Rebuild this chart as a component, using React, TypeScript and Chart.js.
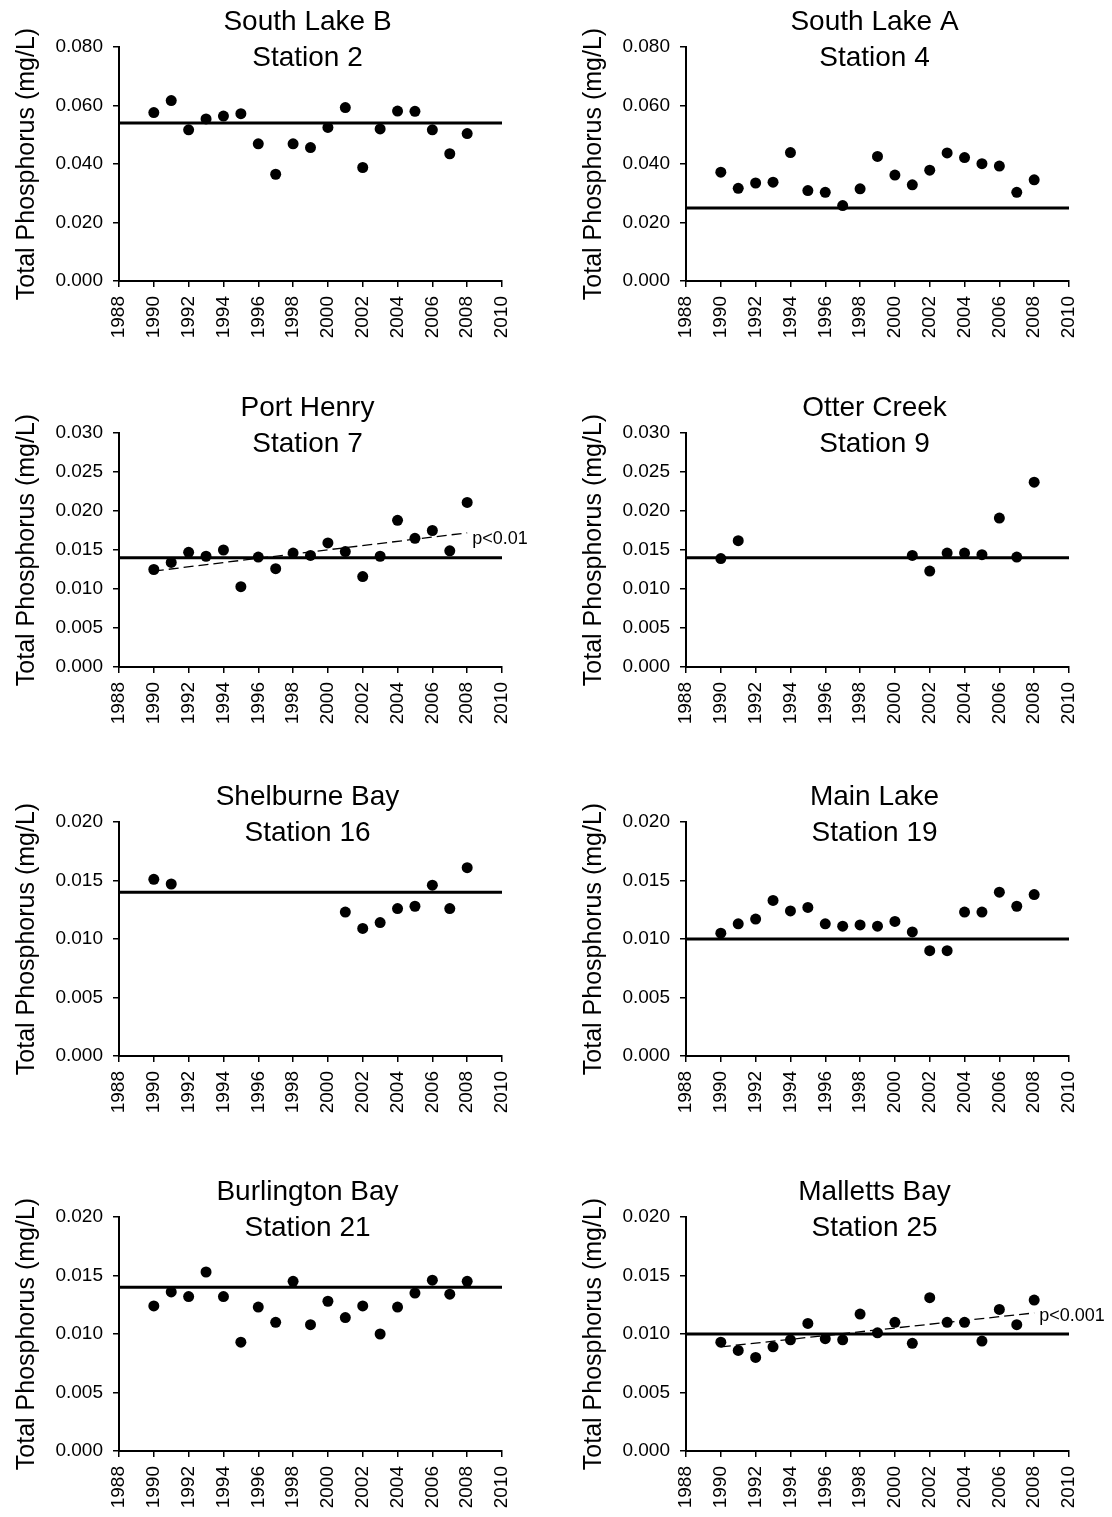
import React, { useEffect, useRef } from "react";
import { Chart, registerables } from "chart.js";

Chart.register(...registerables);

const FONT = '"Liberation Sans", Arial, Helvetica, sans-serif';

// ---------- data ----------
const YEARS_FULL = [1990, 1991, 1992, 1993, 1994, 1995, 1996, 1997, 1998, 1999, 2000, 2001, 2002, 2003, 2004, 2005, 2006, 2007, 2008];
const YEARS_GAP = [1990, 1991, 2001, 2002, 2003, 2004, 2005, 2006, 2007, 2008];

const X_MIN = 1988;
const X_MAX = 2010;
const X_STEP = 2;

const Y_LABEL = "Total Phosphorus (mg/L)";

const SOUTH_LAKE_B = [0.0576, 0.0617, 0.0517, 0.0554, 0.0564, 0.0572, 0.0469, 0.0365, 0.0469, 0.0456, 0.0525, 0.0593, 0.0388, 0.0520, 0.0581, 0.0580, 0.0517, 0.0435, 0.0504];
const SOUTH_LAKE_A = [0.0372, 0.0317, 0.0335, 0.0338, 0.0439, 0.0309, 0.0303, 0.0258, 0.0315, 0.0426, 0.0362, 0.0329, 0.0379, 0.0438, 0.0422, 0.0401, 0.0393, 0.0303, 0.0346];
const PORT_HENRY = [0.0125, 0.0134, 0.0147, 0.0142, 0.0150, 0.0103, 0.0141, 0.0126, 0.0146, 0.0143, 0.0159, 0.0148, 0.0116, 0.0142, 0.0188, 0.0165, 0.0175, 0.0149, 0.0211];
const OTTER_CREEK = [0.0139, 0.0162, 0.0143, 0.0123, 0.0146, 0.0146, 0.0144, 0.0191, 0.0141, 0.0237];
const SHELBURNE_BAY = [0.0151, 0.0147, 0.0123, 0.0109, 0.0114, 0.0126, 0.0128, 0.0146, 0.0126, 0.0161];
const MAIN_LAKE = [0.0105, 0.0113, 0.0117, 0.0133, 0.0124, 0.0127, 0.0113, 0.0111, 0.0112, 0.0111, 0.0115, 0.0106, 0.0090, 0.0090, 0.0123, 0.0123, 0.0140, 0.0128, 0.0138];
const BURLINGTON_BAY = [0.0124, 0.0136, 0.0132, 0.0153, 0.0132, 0.0093, 0.0123, 0.0110, 0.0145, 0.0108, 0.0128, 0.0114, 0.0124, 0.0100, 0.0123, 0.0135, 0.0146, 0.0134, 0.0145];
const MALLETTS_BAY = [0.0093, 0.0086, 0.0080, 0.0089, 0.0095, 0.0109, 0.0096, 0.0095, 0.0117, 0.0101, 0.0110, 0.0092, 0.0131, 0.0110, 0.0110, 0.0094, 0.0121, 0.0108, 0.0129];

// criteria (reference lines)
const CRITERIA = [0.054, 0.025, 0.014, 0.014, 0.014, 0.010, 0.014, 0.010];

// trend lines (start 1990, end 2008)
const TREND_YEARS = [1990, 2008];
const PORT_HENRY_TREND = [0.0123, 0.0172];
const MALLETTS_BAY_TREND = [0.0089, 0.0118];
const PORT_HENRY_P = "p<0.01";
const MALLETTS_BAY_P = "p<0.001";

// axis ranges
const Y_MAX = [0.08, 0.08, 0.03, 0.03, 0.02, 0.02, 0.02, 0.02];
const Y_STEP = [0.02, 0.02, 0.005, 0.005, 0.005, 0.005, 0.005, 0.005];

const TITLES = [
  ["South Lake B", "Station 2"],
  ["South Lake A", "Station 4"],
  ["Port Henry", "Station 7"],
  ["Otter Creek", "Station 9"],
  ["Shelburne Bay", "Station 16"],
  ["Main Lake", "Station 19"],
  ["Burlington Bay", "Station 21"],
  ["Malletts Bay", "Station 25"],
];

type PanelDef = {
  title: string[];
  years: number[];
  values: number[];
  crit: number;
  yMax: number;
  yStep: number;
  trend?: number[];
  pLabel?: string;
  pValueY?: number;
};

const PANELS: PanelDef[] = [
  { title: TITLES[0], years: YEARS_FULL, values: SOUTH_LAKE_B, crit: CRITERIA[0], yMax: Y_MAX[0], yStep: Y_STEP[0] },
  { title: TITLES[1], years: YEARS_FULL, values: SOUTH_LAKE_A, crit: CRITERIA[1], yMax: Y_MAX[1], yStep: Y_STEP[1] },
  { title: TITLES[2], years: YEARS_FULL, values: PORT_HENRY, crit: CRITERIA[2], yMax: Y_MAX[2], yStep: Y_STEP[2], trend: PORT_HENRY_TREND, pLabel: PORT_HENRY_P, pValueY: 0.01645 },
  { title: TITLES[3], years: YEARS_GAP, values: OTTER_CREEK, crit: CRITERIA[3], yMax: Y_MAX[3], yStep: Y_STEP[3] },
  { title: TITLES[4], years: YEARS_GAP, values: SHELBURNE_BAY, crit: CRITERIA[4], yMax: Y_MAX[4], yStep: Y_STEP[4] },
  { title: TITLES[5], years: YEARS_FULL, values: MAIN_LAKE, crit: CRITERIA[5], yMax: Y_MAX[5], yStep: Y_STEP[5] },
  { title: TITLES[6], years: YEARS_FULL, values: BURLINGTON_BAY, crit: CRITERIA[6], yMax: Y_MAX[6], yStep: Y_STEP[6] },
  { title: TITLES[7], years: YEARS_FULL, values: MALLETTS_BAY, crit: CRITERIA[7], yMax: Y_MAX[7], yStep: Y_STEP[7], trend: MALLETTS_BAY_TREND, pLabel: MALLETTS_BAY_P, pValueY: 0.01154 },
];

// ---------- layout ----------
const CANVAS_W = 556;
const CANVAS_H = 345;
const ROW_TOPS = [0, 386, 775, 1170];
const PLOT_TOP_PAD = 47;
const PLOT_H = 234;
const Y_AXIS_W = 119;

function Panel({ def, col, row }: { def: PanelDef; col: number; row: number }) {
  const ref = useRef<HTMLCanvasElement | null>(null);

  useEffect(() => {
    if (!ref.current) return;
    const datasets: any[] = [
      {
        type: "scatter",
        data: def.years.map((x, i) => ({ x, y: def.values[i] })),
        backgroundColor: "#000",
        borderColor: "#000",
        borderWidth: 0,
        pointRadius: 5.5,
        pointHoverRadius: 5.5,
        showLine: false,
      },
      {
        type: "line",
        data: [
          { x: X_MIN, y: def.crit },
          { x: X_MAX, y: def.crit },
        ],
        borderColor: "#000",
        borderWidth: 3,
        pointRadius: 0,
        fill: false,
      },
    ];
    if (def.trend) {
      datasets.push({
        type: "line",
        data: [
          { x: TREND_YEARS[0], y: def.trend[0] },
          { x: TREND_YEARS[1], y: def.trend[1] },
        ],
        borderColor: "#000",
        borderWidth: 1.3,
        borderDash: [10, 5],
        pointRadius: 0,
        fill: false,
      });
    }

    const titlePlugin = {
      id: "panelTitle",
      afterDraw(chart: any) {
        const { ctx, chartArea } = chart;
        ctx.save();
        ctx.fillStyle = "#000";
        ctx.font = `28px ${FONT}`;
        ctx.textAlign = "center";
        ctx.textBaseline = "alphabetic";
        const cx = (chartArea.left + chartArea.right) / 2 - 3;
        ctx.fillText(def.title[0], cx, chartArea.top - 17);
        ctx.fillText(def.title[1], cx, chartArea.top + 19);
        if (def.pLabel && def.pValueY !== undefined) {
          const xs = chart.scales.x;
          const ys = chart.scales.y;
          ctx.font = `18px ${FONT}`;
          ctx.textAlign = "left";
          ctx.textBaseline = "middle";
          ctx.fillText(def.pLabel, xs.getPixelForValue(TREND_YEARS[1]) + 5, ys.getPixelForValue(def.pValueY));
        }
        ctx.restore();
      },
    };

    const axisGrid = {
      drawOnChartArea: false,
      drawTicks: true,
      tickLength: 6,
      color: "#000",
      lineWidth: 1.5,
    };

    const chart = new Chart(ref.current, {
      type: "scatter",
      data: { datasets },
      options: {
        animation: false,
        responsive: false,
        devicePixelRatio: 1,
        events: [],
        layout: {
          padding: {
            top: PLOT_TOP_PAD,
            left: col === 0 ? 0 : 11,
            right: col === 0 ? 54 : 43,
            bottom: 0,
          },
        },
        plugins: {
          legend: { display: false },
          title: { display: false },
          tooltip: { enabled: false },
        },
        scales: {
          x: {
            type: "linear",
            position: "bottom",
            min: X_MIN,
            max: X_MAX,
            afterFit: (s: any) => {
              s.height = CANVAS_H - PLOT_TOP_PAD - PLOT_H;
            },
            ticks: {
              stepSize: X_STEP,
              autoSkip: false,
              maxRotation: 90,
              minRotation: 90,
              padding: 9,
              color: "#000",
              font: { size: 19, family: FONT },
              callback: (v: any) => String(v),
            },
            grid: axisGrid,
            border: { display: true, color: "#000", width: 2 },
          },
          y: {
            type: "linear",
            position: "left",
            min: 0,
            max: def.yMax,
            afterFit: (s: any) => {
              s.width = Y_AXIS_W;
            },
            ticks: {
              stepSize: def.yStep,
              padding: 10,
              color: "#000",
              font: { size: 19, family: FONT },
              callback: (v: any) => Number(v).toFixed(3),
            },
            title: {
              display: true,
              text: Y_LABEL,
              color: "#000",
              font: { size: 25, family: FONT },
              padding: { top: 12, bottom: 0 },
            },
            grid: axisGrid,
            border: { display: true, color: "#000", width: 2 },
          },
        },
      } as any,
      plugins: [titlePlugin],
    });
    return () => chart.destroy();
  }, [def, col]);

  return (
    <canvas
      ref={ref}
      width={CANVAS_W}
      height={CANVAS_H}
      style={{ position: "absolute", left: col * CANVAS_W, top: ROW_TOPS[row], width: CANVAS_W, height: CANVAS_H }}
    />
  );
}

export default function App() {
  return (
    <div
      style={{
        position: "absolute",
        left: 0,
        top: 0,
        width: 1112,
        height: 1517,
        overflow: "hidden",
        background: "#fff",
      }}
    >
      {PANELS.map((def, i) => (
        <Panel key={i} def={def} col={i % 2} row={Math.floor(i / 2)} />
      ))}
    </div>
  );
}
